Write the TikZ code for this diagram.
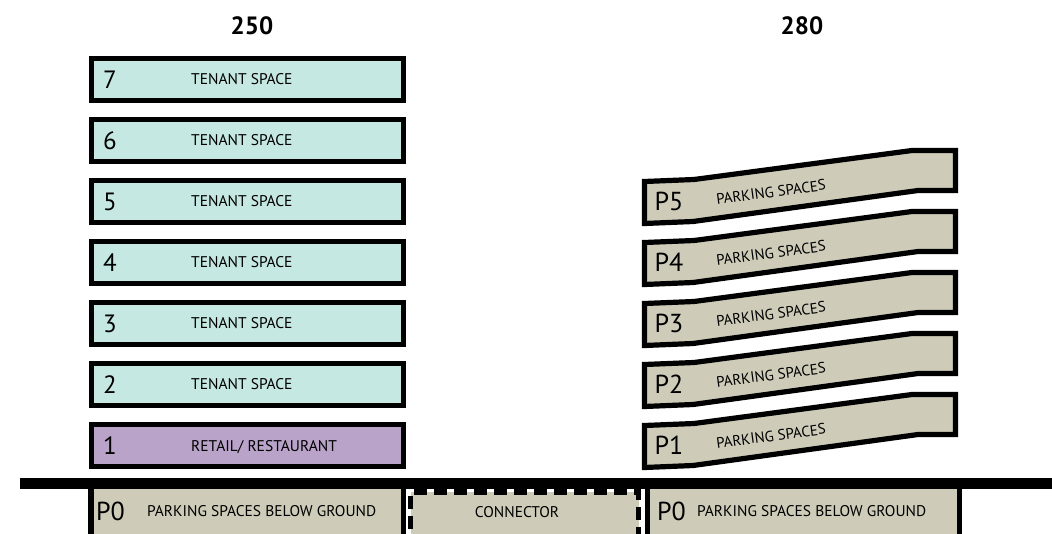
\documentclass[tikz,border=0pt]{standalone}
\usepackage{fontspec}
\setmainfont{PT Sans}
\definecolor{tenant}{RGB}{197,232,226}
\definecolor{retail}{RGB}{185,163,200}
\definecolor{park}{RGB}{206,204,185}
\begin{document}
\begin{tikzpicture}[x=1pt,y=-1pt,
  outl/.style={draw=black, line width=5.2pt, line join=miter},
  floorbox/.style={outl, minimum width=312.5pt, minimum height=42.5pt, inner sep=0pt},
  groundbox/.style={outl, fill=park, minimum width=312.5pt, minimum height=60pt, inner sep=0pt},
  numlbl/.style={anchor=west, inner sep=0pt, font=\fontsize{25}{25}\selectfont},
  bigp/.style={anchor=center, inner sep=0pt, font=\fontsize{26}{26}\selectfont},
  txtlbl/.style={anchor=west, inner sep=0pt, font=\fontsize{15.5}{15.5}\selectfont},
  parklbl/.style={anchor=center, inner sep=0pt, rotate=7.6, font=\fontsize{15}{15}\selectfont},
  heading/.style={anchor=center, inner sep=0pt, font=\fontsize{25}{25}\selectfont\bfseries}]
\useasboundingbox (0,0) rectangle (1052,533);
\clip (0,0) rectangle (1052,533);
% headings
\node[heading] (h250) at (252,26) {250};
\node[heading] (h280) at (802,26) {280};
% left building floors
\foreach \n/\i in {7/0,6/1,5/2,4/3,3/4,2/5}{
  \node[floorbox, fill=tenant] (f\n) at (247.5,{79.5+61*\i}) {};
  \node[numlbl] (n\n) at (103,{79.5+61*\i}) {\n};
  \node[txtlbl] (t\n) at (191,{79.5+61*\i}) {TENANT SPACE};
}
\node[floorbox, fill=retail] (f1) at (247.5,445.5) {};
\node[numlbl] (n1) at (103,445.5) {1};
\node[txtlbl] (t1) at (191,447) {RETAIL/ RESTAURANT};
% parking slabs
\foreach \k in {1,...,5}{
  \pgfmathsetmacro{\dy}{61*(5-\k)}
  \draw[outl, fill=park, shift={(0,\dy)}]
    (644.5,181.5) -- (694,179.5) -- (912,150.5) -- (955.5,150.5)
    -- (955.5,190.5) -- (918,190.5) -- (693,221.5) -- (644.5,223.5) -- cycle;
  \node[bigp] (pl\k) at (669,{201+\dy}) {P\k};
  \node[parklbl] (ps\k) at (771,{192+\dy}) {PARKING SPACES};
}
% below ground
\node[groundbox] (p0l) at (247.25,516) {};
\node[groundbox, minimum width=228pt, dashed, dash pattern=on 13pt off 7pt] (conn) at (524.5,522) {};
\node[groundbox] (p0r) at (803.5,516) {};
\fill[black] (20,477.5) rectangle (1052,489);
\node[bigp, anchor=west] (p0la) at (96,511) {P0};
\node[txtlbl] (p0lt) at (147,511) {PARKING SPACES BELOW GROUND};
\node[txtlbl, anchor=center] (connt) at (517,512) {CONNECTOR};
\node[bigp, anchor=west] (p0ra) at (657,511) {P0};
\node[txtlbl] (p0rt) at (697,511) {PARKING SPACES BELOW GROUND};
\end{tikzpicture}
\end{document}
